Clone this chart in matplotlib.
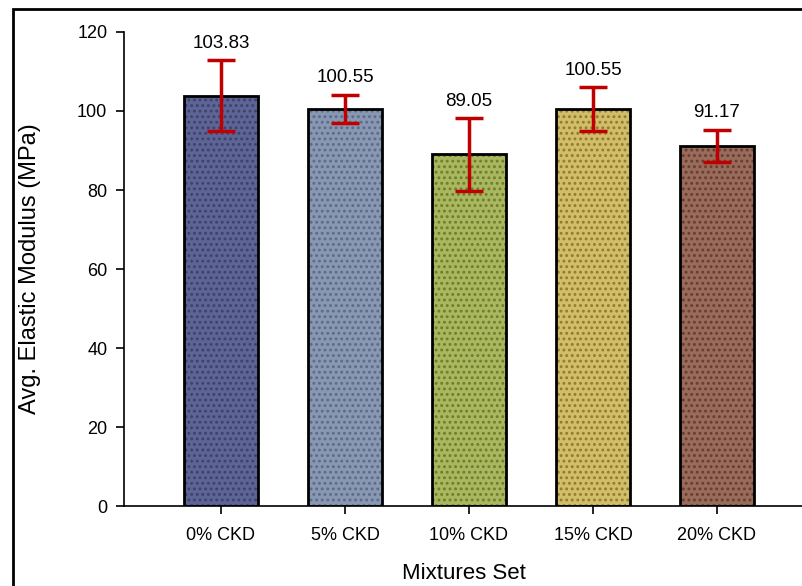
import matplotlib.pyplot as plt
from matplotlib.patches import Rectangle

# ============ DATA ============
mixtures = ['0% CKD', '5% CKD', '10% CKD', '15% CKD', '20% CKD']
modulus = [103.83, 100.55, 89.05, 100.55, 91.17]
errors = [9.0, 3.6, 9.2, 5.5, 4.1]
yticks = [0, 20, 40, 60, 80, 100, 120]

bar_colors = ['#5e6594', '#8898b2', '#a9b85e', '#d2bd69', '#9a6a5a']
dot_colors = ['#3c4270', '#5c6c88', '#6f7c30', '#8f7c30', '#604034']

plt.rcParams['font.family'] = ['Liberation Sans', 'DejaVu Sans']
plt.rcParams['hatch.linewidth'] = 1.3

fig = plt.figure(figsize=(8.03, 5.86), dpi=100)
ax = fig.add_axes([0.1544, 0.1365, 0.8456, 0.8089])

x = list(range(len(mixtures)))

# base bars
ax.bar(x, modulus, width=0.6, color=bar_colors, edgecolor='none', zorder=2)
# dotted texture
for xi, h, dc in zip(x, modulus, dot_colors):
    ax.bar(xi, h, width=0.6, color='none', edgecolor=dc, hatch='...',
           linewidth=0, zorder=3)
# black outlines
ax.bar(x, modulus, width=0.6, color='none', edgecolor='black', linewidth=2,
       zorder=4)

ax.errorbar(x, modulus, yerr=errors, fmt='none', ecolor='#c00000',
            elinewidth=2.5, capsize=10, capthick=2.5, zorder=5)

for xi, h, e in zip(x, modulus, errors):
    ax.annotate(f'{h:.2f}', (xi, h + e), xytext=(0, 6),
                textcoords='offset points', ha='center', va='bottom',
                fontsize=13.5)

ax.set_xlim(-0.782, 4.694)
ax.set_ylim(0, 120)
ax.set_yticks(yticks)
ax.set_xticks(x)
ax.set_xticklabels(mixtures)
ax.tick_params(axis='both', direction='out', length=6, width=1.2,
               labelsize=13, pad=6)
ax.tick_params(axis='x', pad=9)

for s in ['top', 'right']:
    ax.spines[s].set_visible(False)
for s in ['left', 'bottom']:
    ax.spines[s].set_linewidth(1.2)

ax.set_ylabel('Avg. Elastic Modulus (MPa)', fontsize=17, labelpad=26)
ax.set_xlabel('Mixtures Set', fontsize=16, labelpad=14)

# outer frame
fig.add_artist(Rectangle((13 / 803, -0.1), 1.2, 1.1 - 9 / 586,
                         transform=fig.transFigure, fill=False,
                         edgecolor='black', linewidth=2, clip_on=False))

fig.savefig('out.png', dpi=100)
